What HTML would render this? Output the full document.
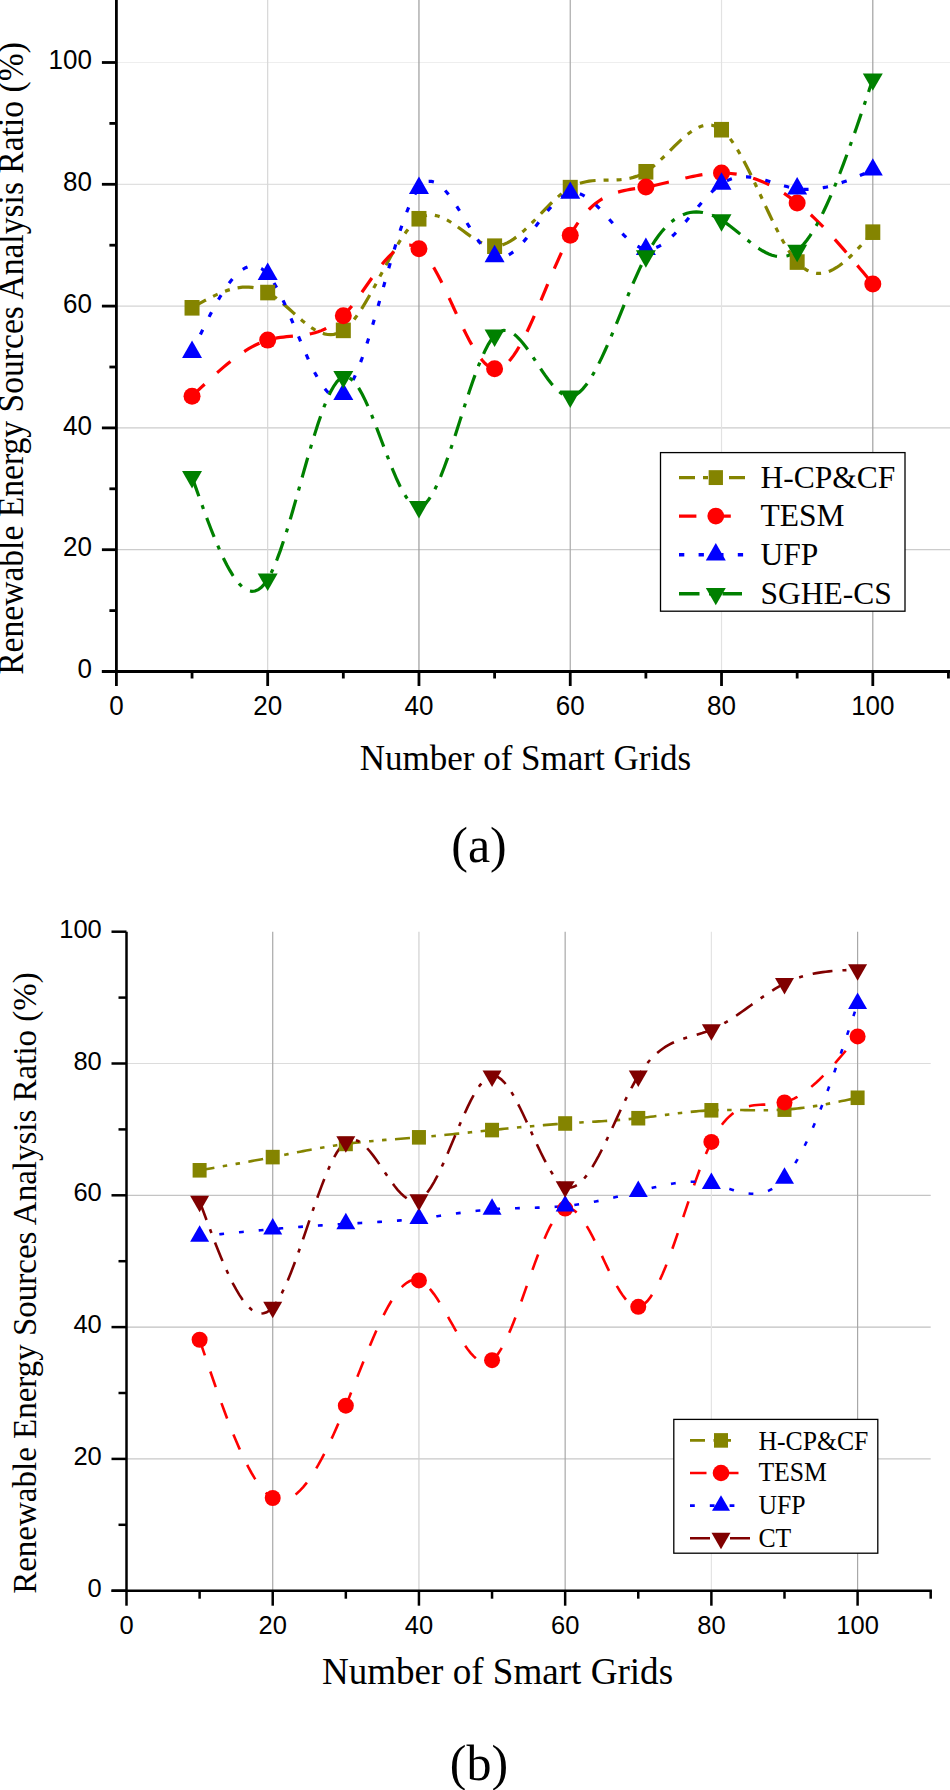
<!DOCTYPE html>
<html><head><meta charset="utf-8"><style>
html,body{margin:0;padding:0;background:#fff;}
body{width:950px;height:1790px;overflow:hidden;}
svg{display:block;}
</style></head><body>
<svg width="950" height="1790" viewBox="0 0 950 1790">
<line x1="116.40" y1="549.70" x2="950.00" y2="549.70" stroke="#cccccc" stroke-width="1.2"/>
<line x1="116.40" y1="427.90" x2="950.00" y2="427.90" stroke="#cccccc" stroke-width="1.2"/>
<line x1="116.40" y1="306.10" x2="950.00" y2="306.10" stroke="#d4d4d4" stroke-width="1.2"/>
<line x1="116.40" y1="184.30" x2="950.00" y2="184.30" stroke="#e0e0e0" stroke-width="1.2"/>
<line x1="116.40" y1="62.50" x2="950.00" y2="62.50" stroke="#eeeeee" stroke-width="1.2"/>
<line x1="267.68" y1="-2.00" x2="267.68" y2="671.50" stroke="#d6d6d6" stroke-width="1.2"/>
<line x1="418.96" y1="-2.00" x2="418.96" y2="671.50" stroke="#9c9c9c" stroke-width="1.2"/>
<line x1="570.24" y1="-2.00" x2="570.24" y2="671.50" stroke="#aaaaaa" stroke-width="1.2"/>
<line x1="721.52" y1="-2.00" x2="721.52" y2="671.50" stroke="#e2e2e2" stroke-width="1.2"/>
<line x1="872.80" y1="-2.00" x2="872.80" y2="671.50" stroke="#a0a0a0" stroke-width="1.2"/>
<path d="M192.04,307.80 L195.19,305.99 L198.34,304.20 L201.50,302.43 L204.65,300.70 L207.80,299.01 L210.95,297.39 L214.10,295.84 L217.25,294.38 L220.41,293.01 L223.56,291.75 L226.71,290.62 L229.86,289.62 L233.01,288.76 L236.16,288.07 L239.31,287.55 L242.47,287.21 L245.62,287.06 L248.77,287.13 L251.92,287.41 L255.07,287.92 L258.23,288.68 L261.38,289.70 L264.53,290.99 L267.68,292.55 L270.83,294.40 L273.98,296.51 L277.13,298.83 L280.29,301.34 L283.44,303.98 L286.59,306.73 L289.74,309.54 L292.89,312.38 L296.05,315.20 L299.20,317.98 L302.35,320.67 L305.50,323.23 L308.65,325.64 L311.80,327.84 L314.96,329.80 L318.11,331.48 L321.26,332.84 L324.41,333.86 L327.56,334.48 L330.71,334.67 L333.87,334.39 L337.02,333.60 L340.17,332.28 L343.32,330.37 L346.47,327.85 L349.62,324.77 L352.77,321.17 L355.93,317.10 L359.08,312.63 L362.23,307.79 L365.38,302.65 L368.53,297.25 L371.69,291.65 L374.84,285.90 L377.99,280.05 L381.14,274.15 L384.29,268.26 L387.44,262.43 L390.60,256.70 L393.75,251.14 L396.90,245.80 L400.05,240.72 L403.20,235.96 L406.35,231.56 L409.50,227.60 L412.66,224.10 L415.81,221.14 L418.96,218.75 L422.11,216.98 L425.26,215.80 L428.41,215.16 L431.57,215.01 L434.72,215.31 L437.87,216.02 L441.02,217.09 L444.17,218.47 L447.33,220.12 L450.48,221.99 L453.63,224.04 L456.78,226.22 L459.93,228.49 L463.08,230.80 L466.24,233.11 L469.39,235.37 L472.54,237.53 L475.69,239.55 L478.84,241.39 L481.99,242.99 L485.14,244.32 L488.30,245.33 L491.45,245.97 L494.60,246.20 L497.75,245.98 L500.90,245.34 L504.06,244.30 L507.21,242.90 L510.36,241.17 L513.51,239.14 L516.66,236.84 L519.81,234.31 L522.97,231.57 L526.12,228.66 L529.27,225.61 L532.42,222.46 L535.57,219.22 L538.72,215.94 L541.88,212.65 L545.03,209.37 L548.18,206.15 L551.33,203.00 L554.48,199.98 L557.63,197.09 L560.78,194.39 L563.94,191.89 L567.09,189.63 L570.24,187.65 L573.39,185.96 L576.54,184.55 L579.70,183.39 L582.85,182.46 L586.00,181.73 L589.15,181.18 L592.30,180.77 L595.45,180.49 L598.61,180.31 L601.76,180.20 L604.91,180.14 L608.06,180.09 L611.21,180.04 L614.36,179.96 L617.51,179.83 L620.67,179.61 L623.82,179.28 L626.97,178.82 L630.12,178.20 L633.27,177.39 L636.42,176.37 L639.58,175.12 L642.73,173.60 L645.88,171.79 L649.03,169.68 L652.18,167.30 L655.34,164.68 L658.49,161.87 L661.64,158.92 L664.79,155.86 L667.94,152.73 L671.09,149.58 L674.25,146.44 L677.40,143.37 L680.55,140.39 L683.70,137.56 L686.85,134.91 L690.00,132.48 L693.15,130.32 L696.31,128.47 L699.46,126.97 L702.61,125.85 L705.76,125.17 L708.91,124.97 L712.06,125.28 L715.22,126.14 L718.37,127.61 L721.52,129.71 L724.67,132.48 L727.82,135.87 L730.98,139.85 L734.13,144.34 L737.28,149.30 L740.43,154.68 L743.58,160.42 L746.73,166.47 L749.88,172.78 L753.04,179.28 L756.19,185.95 L759.34,192.70 L762.49,199.50 L765.64,206.30 L768.79,213.03 L771.95,219.64 L775.10,226.09 L778.25,232.32 L781.40,238.27 L784.55,243.89 L787.70,249.14 L790.86,253.95 L794.01,258.27 L797.16,262.06 L800.45,265.39 L803.74,268.10 L807.03,270.23 L810.31,271.79 L813.60,272.82 L816.89,273.34 L820.18,273.39 L823.47,272.99 L826.76,272.17 L830.05,270.95 L833.34,269.37 L836.62,267.46 L839.91,265.23 L843.20,262.72 L846.49,259.97 L849.78,256.98 L853.07,253.80 L856.36,250.45 L859.65,246.97 L862.93,243.37 L866.22,239.68 L869.51,235.94 L872.80,232.17" fill="none" stroke="#848400" stroke-width="3.2" stroke-dasharray="16 8 5 8 5 8"/>
<path d="M192.04,396.24 L195.19,393.21 L198.34,390.19 L201.50,387.18 L204.65,384.20 L207.80,381.24 L210.95,378.32 L214.10,375.44 L217.25,372.62 L220.41,369.85 L223.56,367.15 L226.71,364.51 L229.86,361.96 L233.01,359.50 L236.16,357.12 L239.31,354.85 L242.47,352.69 L245.62,350.64 L248.77,348.71 L251.92,346.91 L255.07,345.25 L258.23,343.74 L261.38,342.37 L264.53,341.17 L267.68,340.12 L270.83,339.25 L273.98,338.53 L277.13,337.93 L280.29,337.44 L283.44,337.04 L286.59,336.70 L289.74,336.39 L292.89,336.11 L296.05,335.81 L299.20,335.50 L302.35,335.13 L305.50,334.69 L308.65,334.15 L311.80,333.50 L314.96,332.72 L318.11,331.77 L321.26,330.63 L324.41,329.30 L327.56,327.73 L330.71,325.92 L333.87,323.84 L337.02,321.46 L340.17,318.76 L343.32,315.73 L346.47,312.35 L349.62,308.65 L352.77,304.70 L355.93,300.53 L359.08,296.20 L362.23,291.76 L365.38,287.25 L368.53,282.73 L371.69,278.24 L374.84,273.83 L377.99,269.56 L381.14,265.47 L384.29,261.62 L387.44,258.04 L390.60,254.80 L393.75,251.94 L396.90,249.50 L400.05,247.55 L403.20,246.12 L406.35,245.27 L409.50,245.05 L412.66,245.50 L415.81,246.68 L418.96,248.64 L422.11,251.40 L425.26,254.91 L428.41,259.09 L431.57,263.87 L434.72,269.17 L437.87,274.92 L441.02,281.05 L444.17,287.46 L447.33,294.10 L450.48,300.89 L453.63,307.74 L456.78,314.59 L459.93,321.35 L463.08,327.96 L466.24,334.34 L469.39,340.40 L472.54,346.09 L475.69,351.31 L478.84,356.00 L481.99,360.08 L485.14,363.48 L488.30,366.11 L491.45,367.91 L494.60,368.79 L497.75,368.71 L500.90,367.70 L504.06,365.83 L507.21,363.15 L510.36,359.73 L513.51,355.63 L516.66,350.91 L519.81,345.63 L522.97,339.86 L526.12,333.64 L529.27,327.06 L532.42,320.15 L535.57,313.00 L538.72,305.66 L541.88,298.19 L545.03,290.65 L548.18,283.10 L551.33,275.60 L554.48,268.23 L557.63,261.03 L560.78,254.06 L563.94,247.40 L567.09,241.10 L570.24,235.22 L573.39,229.81 L576.54,224.86 L579.70,220.35 L582.85,216.26 L586.00,212.56 L589.15,209.23 L592.30,206.25 L595.45,203.60 L598.61,201.25 L601.76,199.17 L604.91,197.36 L608.06,195.78 L611.21,194.42 L614.36,193.25 L617.51,192.24 L620.67,191.38 L623.82,190.65 L626.97,190.01 L630.12,189.45 L633.27,188.95 L636.42,188.48 L639.58,188.02 L642.73,187.55 L645.88,187.04 L649.03,186.48 L652.18,185.87 L655.34,185.21 L658.49,184.52 L661.64,183.80 L664.79,183.05 L667.94,182.29 L671.09,181.51 L674.25,180.73 L677.40,179.95 L680.55,179.18 L683.70,178.43 L686.85,177.70 L690.00,177.00 L693.15,176.33 L696.31,175.70 L699.46,175.13 L702.61,174.61 L705.76,174.15 L708.91,173.76 L712.06,173.44 L715.22,173.21 L718.37,173.06 L721.52,173.01 L724.67,173.06 L727.82,173.21 L730.98,173.47 L734.13,173.83 L737.28,174.29 L740.43,174.85 L743.58,175.52 L746.73,176.29 L749.88,177.16 L753.04,178.14 L756.19,179.22 L759.34,180.41 L762.49,181.70 L765.64,183.09 L768.79,184.59 L771.95,186.20 L775.10,187.92 L778.25,189.74 L781.40,191.66 L784.55,193.69 L787.70,195.83 L790.86,198.08 L794.01,200.43 L797.16,202.90 L800.45,205.58 L803.74,208.38 L807.03,211.28 L810.31,214.28 L813.60,217.39 L816.89,220.58 L820.18,223.86 L823.47,227.23 L826.76,230.67 L830.05,234.18 L833.34,237.76 L836.62,241.39 L839.91,245.09 L843.20,248.84 L846.49,252.63 L849.78,256.46 L853.07,260.33 L856.36,264.23 L859.65,268.16 L862.93,272.10 L866.22,276.07 L869.51,280.04 L872.80,284.01" fill="none" stroke="#ff0000" stroke-width="3.2" stroke-dasharray="17.4 17"/>
<path d="M192.04,352.17 L195.19,345.48 L198.34,338.82 L201.50,332.24 L204.65,325.76 L207.80,319.42 L210.95,313.27 L214.10,307.33 L217.25,301.64 L220.41,296.24 L223.56,291.16 L226.71,286.44 L229.86,282.12 L233.01,278.23 L236.16,274.80 L239.31,271.88 L242.47,269.49 L245.62,267.68 L248.77,266.48 L251.92,265.93 L255.07,266.05 L258.23,266.90 L261.38,268.50 L264.53,270.89 L267.68,274.11 L270.83,278.16 L273.98,282.98 L277.13,288.48 L280.29,294.56 L283.44,301.13 L286.59,308.09 L289.74,315.35 L292.89,322.82 L296.05,330.41 L299.20,338.01 L302.35,345.54 L305.50,352.90 L308.65,360.01 L311.80,366.76 L314.96,373.06 L318.11,378.83 L321.26,383.95 L324.41,388.36 L327.56,391.94 L330.71,394.60 L333.87,396.26 L337.02,396.82 L340.17,396.18 L343.32,394.26 L346.47,390.98 L349.62,386.44 L352.77,380.73 L355.93,373.97 L359.08,366.28 L362.23,357.75 L365.38,348.50 L368.53,338.65 L371.69,328.29 L374.84,317.55 L377.99,306.53 L381.14,295.34 L384.29,284.09 L387.44,272.89 L390.60,261.86 L393.75,251.10 L396.90,240.73 L400.05,230.84 L403.20,221.57 L406.35,213.01 L409.50,205.27 L412.66,198.47 L415.81,192.71 L418.96,188.11 L422.11,184.74 L425.26,182.56 L428.41,181.46 L431.57,181.37 L434.72,182.20 L437.87,183.85 L441.02,186.26 L444.17,189.31 L447.33,192.94 L450.48,197.05 L453.63,201.56 L456.78,206.37 L459.93,211.40 L463.08,216.57 L466.24,221.78 L469.39,226.95 L472.54,232.00 L475.69,236.83 L478.84,241.36 L481.99,245.50 L485.14,249.16 L488.30,252.26 L491.45,254.71 L494.60,256.42 L497.75,257.33 L500.90,257.48 L504.06,256.93 L507.21,255.73 L510.36,253.96 L513.51,251.68 L516.66,248.94 L519.81,245.81 L522.97,242.35 L526.12,238.63 L529.27,234.69 L532.42,230.62 L535.57,226.46 L538.72,222.28 L541.88,218.14 L545.03,214.11 L548.18,210.24 L551.33,206.60 L554.48,203.24 L557.63,200.24 L560.78,197.66 L563.94,195.54 L567.09,193.97 L570.24,192.99 L573.39,192.65 L576.54,192.93 L579.70,193.76 L582.85,195.09 L586.00,196.89 L589.15,199.08 L592.30,201.63 L595.45,204.48 L598.61,207.58 L601.76,210.88 L604.91,214.32 L608.06,217.86 L611.21,221.45 L614.36,225.02 L617.51,228.54 L620.67,231.95 L623.82,235.20 L626.97,238.23 L630.12,241.00 L633.27,243.46 L636.42,245.55 L639.58,247.22 L642.73,248.42 L645.88,249.10 L649.03,249.22 L652.18,248.81 L655.34,247.91 L658.49,246.55 L661.64,244.77 L664.79,242.62 L667.94,240.13 L671.09,237.34 L674.25,234.29 L677.40,231.02 L680.55,227.56 L683.70,223.97 L686.85,220.27 L690.00,216.50 L693.15,212.71 L696.31,208.93 L699.46,205.20 L702.61,201.57 L705.76,198.06 L708.91,194.72 L712.06,191.59 L715.22,188.71 L718.37,186.11 L721.52,183.84 L724.67,181.92 L727.82,180.35 L730.98,179.09 L734.13,178.14 L737.28,177.46 L740.43,177.04 L743.58,176.85 L746.73,176.88 L749.88,177.10 L753.04,177.48 L756.19,178.02 L759.34,178.68 L762.49,179.45 L765.64,180.31 L768.79,181.22 L771.95,182.18 L775.10,183.15 L778.25,184.13 L781.40,185.08 L784.55,185.98 L787.70,186.82 L790.86,187.57 L794.01,188.21 L797.16,188.72 L800.45,189.09 L803.74,189.31 L807.03,189.37 L810.31,189.28 L813.60,189.06 L816.89,188.71 L820.18,188.24 L823.47,187.65 L826.76,186.95 L830.05,186.15 L833.34,185.25 L836.62,184.27 L839.91,183.21 L843.20,182.08 L846.49,180.88 L849.78,179.62 L853.07,178.31 L856.36,176.96 L859.65,175.58 L862.93,174.16 L866.22,172.72 L869.51,171.27 L872.80,169.81" fill="none" stroke="#0000ff" stroke-width="3.2" stroke-dasharray="5.3 14.3"/>
<path d="M192.04,476.89 L195.19,485.86 L198.34,494.77 L201.50,503.59 L204.65,512.26 L207.80,520.73 L210.95,528.96 L214.10,536.90 L217.25,544.49 L220.41,551.69 L223.56,558.45 L226.71,564.72 L229.86,570.45 L233.01,575.59 L236.16,580.10 L239.31,583.92 L242.47,587.01 L245.62,589.31 L248.77,590.78 L251.92,591.36 L255.07,591.02 L258.23,589.69 L261.38,587.34 L264.53,583.91 L267.68,579.35 L270.83,573.65 L273.98,566.88 L277.13,559.16 L280.29,550.60 L283.44,541.32 L286.59,531.42 L289.74,521.03 L292.89,510.24 L296.05,499.18 L299.20,487.96 L302.35,476.69 L305.50,465.48 L308.65,454.45 L311.80,443.71 L314.96,433.36 L318.11,423.53 L321.26,414.32 L324.41,405.86 L327.56,398.24 L330.71,391.59 L333.87,386.01 L337.02,381.63 L340.17,378.54 L343.32,376.87 L346.47,376.68 L349.62,377.90 L352.77,380.39 L355.93,384.04 L359.08,388.71 L362.23,394.29 L365.38,400.64 L368.53,407.65 L371.69,415.19 L374.84,423.12 L377.99,431.34 L381.14,439.71 L384.29,448.12 L387.44,456.42 L390.60,464.51 L393.75,472.25 L396.90,479.52 L400.05,486.19 L403.20,492.15 L406.35,497.26 L409.50,501.41 L412.66,504.46 L415.81,506.29 L418.96,506.78 L422.11,505.84 L425.26,503.54 L428.41,500.00 L431.57,495.32 L434.72,489.62 L437.87,483.01 L441.02,475.61 L444.17,467.51 L447.33,458.84 L450.48,449.70 L453.63,440.21 L456.78,430.48 L459.93,420.62 L463.08,410.73 L466.24,400.95 L469.39,391.36 L472.54,382.09 L475.69,373.25 L478.84,364.94 L481.99,357.29 L485.14,350.39 L488.30,344.37 L491.45,339.34 L494.60,335.39 L497.75,332.63 L500.90,330.98 L504.06,330.36 L507.21,330.67 L510.36,331.84 L513.51,333.76 L516.66,336.36 L519.81,339.54 L522.97,343.21 L526.12,347.28 L529.27,351.66 L532.42,356.27 L535.57,361.01 L538.72,365.79 L541.88,370.53 L545.03,375.14 L548.18,379.52 L551.33,383.58 L554.48,387.25 L557.63,390.42 L560.78,393.01 L563.94,394.92 L567.09,396.08 L570.24,396.38 L573.39,395.78 L576.54,394.28 L579.70,391.97 L582.85,388.89 L586.00,385.10 L589.15,380.67 L592.30,375.64 L595.45,370.08 L598.61,364.04 L601.76,357.59 L604.91,350.78 L608.06,343.67 L611.21,336.32 L614.36,328.79 L617.51,321.13 L620.67,313.40 L623.82,305.66 L626.97,297.97 L630.12,290.38 L633.27,282.97 L636.42,275.77 L639.58,268.86 L642.73,262.28 L645.88,256.11 L649.03,250.38 L652.18,245.09 L655.34,240.24 L658.49,235.81 L661.64,231.79 L664.79,228.18 L667.94,224.96 L671.09,222.13 L674.25,219.66 L677.40,217.56 L680.55,215.80 L683.70,214.39 L686.85,213.31 L690.00,212.54 L693.15,212.08 L696.31,211.93 L699.46,212.05 L702.61,212.46 L705.76,213.13 L708.91,214.06 L712.06,215.24 L715.22,216.64 L718.37,218.28 L721.52,220.12 L724.67,222.17 L727.82,224.39 L730.98,226.74 L734.13,229.20 L737.28,231.74 L740.43,234.31 L743.58,236.90 L746.73,239.46 L749.88,241.96 L753.04,244.38 L756.19,246.67 L759.34,248.81 L762.49,250.76 L765.64,252.49 L768.79,253.97 L771.95,255.17 L775.10,256.05 L778.25,256.58 L781.40,256.73 L784.55,256.47 L787.70,255.76 L790.86,254.57 L794.01,252.86 L797.16,250.62 L800.45,247.67 L803.74,244.12 L807.03,240.00 L810.31,235.33 L813.60,230.15 L816.89,224.47 L820.18,218.33 L823.47,211.75 L826.76,204.76 L830.05,197.39 L833.34,189.67 L836.62,181.62 L839.91,173.27 L843.20,164.64 L846.49,155.77 L849.78,146.68 L853.07,137.40 L856.36,127.96 L859.65,118.38 L862.93,108.69 L866.22,98.92 L869.51,89.09 L872.80,79.24" fill="none" stroke="#008000" stroke-width="3.2" stroke-dasharray="20.5 9.5 4 9.5"/>
<rect x="184.54" y="300.00" width="15.00" height="15.60" fill="#848400"/>
<rect x="260.18" y="284.75" width="15.00" height="15.60" fill="#848400"/>
<rect x="335.82" y="322.57" width="15.00" height="15.60" fill="#848400"/>
<rect x="411.46" y="210.95" width="15.00" height="15.60" fill="#848400"/>
<rect x="487.10" y="238.40" width="15.00" height="15.60" fill="#848400"/>
<rect x="562.74" y="179.85" width="15.00" height="15.60" fill="#848400"/>
<rect x="638.38" y="163.99" width="15.00" height="15.60" fill="#848400"/>
<rect x="714.02" y="121.91" width="15.00" height="15.60" fill="#848400"/>
<rect x="789.66" y="254.26" width="15.00" height="15.60" fill="#848400"/>
<rect x="865.30" y="224.37" width="15.00" height="15.60" fill="#848400"/>
<circle cx="192.04" cy="396.24" r="8.50" fill="#ff0000"/>
<circle cx="267.68" cy="340.12" r="8.50" fill="#ff0000"/>
<circle cx="343.32" cy="315.73" r="8.50" fill="#ff0000"/>
<circle cx="418.96" cy="248.64" r="8.50" fill="#ff0000"/>
<circle cx="494.60" cy="368.79" r="8.50" fill="#ff0000"/>
<circle cx="570.24" cy="235.22" r="8.50" fill="#ff0000"/>
<circle cx="645.88" cy="187.04" r="8.50" fill="#ff0000"/>
<circle cx="721.52" cy="173.01" r="8.50" fill="#ff0000"/>
<circle cx="797.16" cy="202.90" r="8.50" fill="#ff0000"/>
<circle cx="872.80" cy="284.01" r="8.50" fill="#ff0000"/>
<path d="M192.04,340.57L202.04,357.97L182.04,357.97Z" fill="#0000ff"/>
<path d="M267.68,262.51L277.68,279.91L257.68,279.91Z" fill="#0000ff"/>
<path d="M343.32,382.66L353.32,400.06L333.32,400.06Z" fill="#0000ff"/>
<path d="M418.96,176.51L428.96,193.91L408.96,193.91Z" fill="#0000ff"/>
<path d="M494.60,244.82L504.60,262.22L484.60,262.22Z" fill="#0000ff"/>
<path d="M570.24,181.39L580.24,198.79L560.24,198.79Z" fill="#0000ff"/>
<path d="M645.88,237.50L655.88,254.90L635.88,254.90Z" fill="#0000ff"/>
<path d="M721.52,172.24L731.52,189.64L711.52,189.64Z" fill="#0000ff"/>
<path d="M797.16,177.12L807.16,194.52L787.16,194.52Z" fill="#0000ff"/>
<path d="M872.80,158.21L882.80,175.61L862.80,175.61Z" fill="#0000ff"/>
<path d="M182.04,471.09L202.04,471.09L192.04,488.49Z" fill="#008000"/>
<path d="M257.68,573.55L277.68,573.55L267.68,590.95Z" fill="#008000"/>
<path d="M333.32,371.07L353.32,371.07L343.32,388.47Z" fill="#008000"/>
<path d="M408.96,500.98L428.96,500.98L418.96,518.38Z" fill="#008000"/>
<path d="M484.60,329.59L504.60,329.59L494.60,346.99Z" fill="#008000"/>
<path d="M560.24,390.58L580.24,390.58L570.24,407.98Z" fill="#008000"/>
<path d="M635.88,250.31L655.88,250.31L645.88,267.71Z" fill="#008000"/>
<path d="M711.52,214.32L731.52,214.32L721.52,231.72Z" fill="#008000"/>
<path d="M787.16,244.82L807.16,244.82L797.16,262.22Z" fill="#008000"/>
<path d="M862.80,73.44L882.80,73.44L872.80,90.84Z" fill="#008000"/>
<line x1="116.40" y1="-2.00" x2="116.40" y2="671.50" stroke="#000" stroke-width="2.8"/>
<line x1="101.90" y1="671.50" x2="952.00" y2="671.50" stroke="#000" stroke-width="2.8"/>
<line x1="101.90" y1="671.50" x2="116.40" y2="671.50" stroke="#000" stroke-width="2.8"/>
<line x1="101.90" y1="549.70" x2="116.40" y2="549.70" stroke="#000" stroke-width="2.8"/>
<line x1="101.90" y1="427.90" x2="116.40" y2="427.90" stroke="#000" stroke-width="2.8"/>
<line x1="101.90" y1="306.10" x2="116.40" y2="306.10" stroke="#000" stroke-width="2.8"/>
<line x1="101.90" y1="184.30" x2="116.40" y2="184.30" stroke="#000" stroke-width="2.8"/>
<line x1="101.90" y1="62.50" x2="116.40" y2="62.50" stroke="#000" stroke-width="2.8"/>
<line x1="109.40" y1="610.60" x2="116.40" y2="610.60" stroke="#000" stroke-width="2.8"/>
<line x1="109.40" y1="488.80" x2="116.40" y2="488.80" stroke="#000" stroke-width="2.8"/>
<line x1="109.40" y1="367.00" x2="116.40" y2="367.00" stroke="#000" stroke-width="2.8"/>
<line x1="109.40" y1="245.20" x2="116.40" y2="245.20" stroke="#000" stroke-width="2.8"/>
<line x1="109.40" y1="123.40" x2="116.40" y2="123.40" stroke="#000" stroke-width="2.8"/>
<line x1="116.40" y1="671.50" x2="116.40" y2="686.00" stroke="#000" stroke-width="2.8"/>
<line x1="267.68" y1="671.50" x2="267.68" y2="686.00" stroke="#000" stroke-width="2.8"/>
<line x1="418.96" y1="671.50" x2="418.96" y2="686.00" stroke="#000" stroke-width="2.8"/>
<line x1="570.24" y1="671.50" x2="570.24" y2="686.00" stroke="#000" stroke-width="2.8"/>
<line x1="721.52" y1="671.50" x2="721.52" y2="686.00" stroke="#000" stroke-width="2.8"/>
<line x1="872.80" y1="671.50" x2="872.80" y2="686.00" stroke="#000" stroke-width="2.8"/>
<line x1="192.04" y1="671.50" x2="192.04" y2="678.50" stroke="#000" stroke-width="2.8"/>
<line x1="343.32" y1="671.50" x2="343.32" y2="678.50" stroke="#000" stroke-width="2.8"/>
<line x1="494.60" y1="671.50" x2="494.60" y2="678.50" stroke="#000" stroke-width="2.8"/>
<line x1="645.88" y1="671.50" x2="645.88" y2="678.50" stroke="#000" stroke-width="2.8"/>
<line x1="797.16" y1="671.50" x2="797.16" y2="678.50" stroke="#000" stroke-width="2.8"/>
<line x1="948.44" y1="671.50" x2="948.44" y2="678.50" stroke="#000" stroke-width="2.8"/>
<text transform="translate(91.90,678.10) scale(1,1.06)" font-family='"Liberation Sans", sans-serif' font-size="26" text-anchor="end">0</text>
<text transform="translate(91.90,556.30) scale(1,1.06)" font-family='"Liberation Sans", sans-serif' font-size="26" text-anchor="end">20</text>
<text transform="translate(91.90,434.50) scale(1,1.06)" font-family='"Liberation Sans", sans-serif' font-size="26" text-anchor="end">40</text>
<text transform="translate(91.90,312.70) scale(1,1.06)" font-family='"Liberation Sans", sans-serif' font-size="26" text-anchor="end">60</text>
<text transform="translate(91.90,190.90) scale(1,1.06)" font-family='"Liberation Sans", sans-serif' font-size="26" text-anchor="end">80</text>
<text transform="translate(91.90,69.10) scale(1,1.06)" font-family='"Liberation Sans", sans-serif' font-size="26" text-anchor="end">100</text>
<text transform="translate(116.40,715.00) scale(1,1.03)" font-family='"Liberation Sans", sans-serif' font-size="26" text-anchor="middle">0</text>
<text transform="translate(267.68,715.00) scale(1,1.03)" font-family='"Liberation Sans", sans-serif' font-size="26" text-anchor="middle">20</text>
<text transform="translate(418.96,715.00) scale(1,1.03)" font-family='"Liberation Sans", sans-serif' font-size="26" text-anchor="middle">40</text>
<text transform="translate(570.24,715.00) scale(1,1.03)" font-family='"Liberation Sans", sans-serif' font-size="26" text-anchor="middle">60</text>
<text transform="translate(721.52,715.00) scale(1,1.03)" font-family='"Liberation Sans", sans-serif' font-size="26" text-anchor="middle">80</text>
<text transform="translate(872.80,715.00) scale(1,1.03)" font-family='"Liberation Sans", sans-serif' font-size="26" text-anchor="middle">100</text>
<text transform="translate(525.50,769.50) scale(1,1.0)" font-family='"Liberation Serif", serif' font-size="35" text-anchor="middle">Number of Smart Grids</text>
<text transform="translate(479.00,861.50) scale(1,1.02)" font-family='"Liberation Serif", serif' font-size="50" text-anchor="middle">(a)</text>
<text transform="translate(23.30,358.50) rotate(-90) scale(1,1.05)" font-family='"Liberation Serif", serif' font-size="33.6" text-anchor="middle">Renewable Energy Sources Analysis Ratio (%)</text>
<rect x="660.50" y="452.60" width="244.50" height="158.60" fill="#fff" stroke="#000" stroke-width="1.3"/>
<line x1="679.00" y1="477.60" x2="746.00" y2="477.60" stroke="#848400" stroke-width="3.4" stroke-dasharray="16 8 5 8 5 8"/>
<rect x="708.65" y="470.16" width="14.30" height="14.87" fill="#848400"/>
<text transform="translate(760.50,487.80) scale(1,1.02)" font-family='"Liberation Serif", serif' font-size="31.5" text-anchor="start">H-CP&amp;CF</text>
<line x1="679.00" y1="516.10" x2="746.00" y2="516.10" stroke="#ff0000" stroke-width="3.4" stroke-dasharray="17.4 17"/>
<circle cx="715.80" cy="516.10" r="8.40" fill="#ff0000"/>
<text transform="translate(760.50,525.70) scale(1,1.02)" font-family='"Liberation Serif", serif' font-size="31.5" text-anchor="start">TESM</text>
<line x1="679.00" y1="554.70" x2="746.00" y2="554.70" stroke="#0000ff" stroke-width="3.4" stroke-dasharray="5.3 14.3"/>
<path d="M715.80,543.10L725.80,560.50L705.80,560.50Z" fill="#0000ff"/>
<text transform="translate(760.50,564.80) scale(1,1.02)" font-family='"Liberation Serif", serif' font-size="31.5" text-anchor="start">UFP</text>
<line x1="679.00" y1="593.70" x2="742.00" y2="593.70" stroke="#008000" stroke-width="3.4" stroke-dasharray="20.5 9.5 4 9.5"/>
<path d="M705.80,587.90L725.80,587.90L715.80,605.30Z" fill="#008000"/>
<text transform="translate(760.50,604.00) scale(1,1.02)" font-family='"Liberation Serif", serif' font-size="31.5" text-anchor="start">SGHE-CS</text>
<line x1="126.50" y1="1458.90" x2="930.71" y2="1458.90" stroke="#c8c8c8" stroke-width="1.2"/>
<line x1="126.50" y1="1327.10" x2="930.71" y2="1327.10" stroke="#c0c0c0" stroke-width="1.2"/>
<line x1="126.50" y1="1195.30" x2="930.71" y2="1195.30" stroke="#c4c4c4" stroke-width="1.2"/>
<line x1="126.50" y1="1063.50" x2="930.71" y2="1063.50" stroke="#dcdcdc" stroke-width="1.2"/>
<line x1="272.72" y1="931.70" x2="272.72" y2="1590.70" stroke="#a8a8a8" stroke-width="1.2"/>
<line x1="418.94" y1="931.70" x2="418.94" y2="1590.70" stroke="#d0d0d0" stroke-width="1.2"/>
<line x1="565.16" y1="931.70" x2="565.16" y2="1590.70" stroke="#a8a8a8" stroke-width="1.2"/>
<line x1="711.38" y1="931.70" x2="711.38" y2="1590.70" stroke="#e4e4e4" stroke-width="1.2"/>
<line x1="857.60" y1="931.70" x2="857.60" y2="1590.70" stroke="#a8a8a8" stroke-width="1.2"/>
<path d="M199.61,1170.30 L202.66,1169.77 L205.70,1169.24 L208.75,1168.71 L211.80,1168.18 L214.84,1167.65 L217.89,1167.12 L220.93,1166.59 L223.98,1166.05 L227.03,1165.51 L230.07,1164.98 L233.12,1164.43 L236.16,1163.89 L239.21,1163.35 L242.26,1162.80 L245.30,1162.25 L248.35,1161.69 L251.40,1161.13 L254.44,1160.57 L257.49,1160.01 L260.54,1159.44 L263.58,1158.86 L266.63,1158.28 L269.67,1157.70 L272.72,1157.11 L275.77,1156.52 L278.81,1155.93 L281.86,1155.33 L284.90,1154.73 L287.95,1154.12 L291.00,1153.52 L294.04,1152.92 L297.09,1152.32 L300.14,1151.73 L303.18,1151.14 L306.23,1150.55 L309.27,1149.97 L312.32,1149.40 L315.37,1148.84 L318.41,1148.29 L321.46,1147.75 L324.51,1147.22 L327.55,1146.70 L330.60,1146.20 L333.64,1145.71 L336.69,1145.24 L339.74,1144.78 L342.78,1144.34 L345.83,1143.93 L348.88,1143.53 L351.92,1143.15 L354.97,1142.79 L358.01,1142.45 L361.06,1142.12 L364.11,1141.80 L367.15,1141.50 L370.20,1141.21 L373.25,1140.94 L376.29,1140.67 L379.34,1140.41 L382.38,1140.16 L385.43,1139.92 L388.48,1139.68 L391.52,1139.44 L394.57,1139.21 L397.62,1138.98 L400.66,1138.75 L403.71,1138.52 L406.75,1138.29 L409.80,1138.06 L412.85,1137.82 L415.89,1137.58 L418.94,1137.33 L421.99,1137.08 L425.03,1136.82 L428.08,1136.55 L431.12,1136.27 L434.17,1135.99 L437.22,1135.71 L440.26,1135.42 L443.31,1135.12 L446.36,1134.82 L449.40,1134.52 L452.45,1134.21 L455.50,1133.90 L458.54,1133.59 L461.59,1133.28 L464.63,1132.96 L467.68,1132.64 L470.73,1132.32 L473.77,1132.00 L476.82,1131.68 L479.87,1131.36 L482.91,1131.04 L485.96,1130.72 L489.00,1130.40 L492.05,1130.08 L495.10,1129.76 L498.14,1129.45 L501.19,1129.14 L504.23,1128.83 L507.28,1128.52 L510.33,1128.21 L513.37,1127.91 L516.42,1127.62 L519.47,1127.32 L522.51,1127.03 L525.56,1126.74 L528.61,1126.46 L531.65,1126.18 L534.70,1125.91 L537.74,1125.64 L540.79,1125.38 L543.84,1125.12 L546.88,1124.87 L549.93,1124.62 L552.98,1124.38 L556.02,1124.15 L559.07,1123.92 L562.11,1123.70 L565.16,1123.49 L568.21,1123.28 L571.25,1123.08 L574.30,1122.88 L577.35,1122.69 L580.39,1122.50 L583.44,1122.32 L586.48,1122.13 L589.53,1121.95 L592.58,1121.76 L595.62,1121.58 L598.67,1121.39 L601.71,1121.19 L604.76,1120.99 L607.81,1120.79 L610.85,1120.58 L613.90,1120.36 L616.95,1120.13 L619.99,1119.90 L623.04,1119.65 L626.09,1119.39 L629.13,1119.11 L632.18,1118.83 L635.22,1118.53 L638.27,1118.21 L641.32,1117.88 L644.36,1117.53 L647.41,1117.17 L650.46,1116.80 L653.50,1116.42 L656.55,1116.03 L659.59,1115.64 L662.64,1115.25 L665.69,1114.85 L668.73,1114.46 L671.78,1114.07 L674.83,1113.69 L677.87,1113.32 L680.92,1112.95 L683.96,1112.60 L687.01,1112.26 L690.06,1111.94 L693.10,1111.63 L696.15,1111.35 L699.19,1111.08 L702.24,1110.85 L705.29,1110.63 L708.33,1110.45 L711.38,1110.30 L714.43,1110.18 L717.47,1110.08 L720.52,1110.02 L723.57,1109.98 L726.61,1109.95 L729.66,1109.95 L732.70,1109.96 L735.75,1109.99 L738.80,1110.02 L741.84,1110.06 L744.89,1110.10 L747.93,1110.14 L750.98,1110.18 L754.03,1110.22 L757.07,1110.25 L760.12,1110.26 L763.17,1110.26 L766.21,1110.25 L769.26,1110.21 L772.30,1110.16 L775.35,1110.07 L778.40,1109.96 L781.44,1109.82 L784.49,1109.64 L787.67,1109.41 L790.85,1109.15 L794.03,1108.85 L797.20,1108.51 L800.38,1108.14 L803.56,1107.74 L806.74,1107.31 L809.92,1106.85 L813.10,1106.37 L816.28,1105.85 L819.46,1105.32 L822.63,1104.77 L825.81,1104.19 L828.99,1103.60 L832.17,1102.99 L835.35,1102.37 L838.53,1101.74 L841.71,1101.09 L844.89,1100.44 L848.06,1099.78 L851.24,1099.11 L854.42,1098.44 L857.60,1097.77" fill="none" stroke="#848400" stroke-width="2.6" stroke-dasharray="15 8.5 4.5 8.5 4.5 8.5"/>
<path d="M199.61,1339.77 L202.66,1348.82 L205.70,1357.85 L208.75,1366.83 L211.80,1375.73 L214.84,1384.53 L217.89,1393.20 L220.93,1401.72 L223.98,1410.06 L227.03,1418.19 L230.07,1426.09 L233.12,1433.73 L236.16,1441.09 L239.21,1448.14 L242.26,1454.86 L245.30,1461.22 L248.35,1467.19 L251.40,1472.75 L254.44,1477.88 L257.49,1482.54 L260.54,1486.72 L263.58,1490.38 L266.63,1493.50 L269.67,1496.06 L272.72,1498.02 L275.77,1499.38 L278.81,1500.14 L281.86,1500.33 L284.90,1499.95 L287.95,1499.04 L291.00,1497.61 L294.04,1495.68 L297.09,1493.28 L300.14,1490.41 L303.18,1487.10 L306.23,1483.38 L309.27,1479.25 L312.32,1474.75 L315.37,1469.88 L318.41,1464.67 L321.46,1459.15 L324.51,1453.32 L327.55,1447.20 L330.60,1440.83 L333.64,1434.21 L336.69,1427.37 L339.74,1420.33 L342.78,1413.10 L345.83,1405.71 L348.88,1398.18 L351.92,1390.54 L354.97,1382.85 L358.01,1375.13 L361.06,1367.43 L364.11,1359.80 L367.15,1352.27 L370.20,1344.89 L373.25,1337.70 L376.29,1330.73 L379.34,1324.04 L382.38,1317.65 L385.43,1311.62 L388.48,1305.98 L391.52,1300.78 L394.57,1296.06 L397.62,1291.85 L400.66,1288.21 L403.71,1285.17 L406.75,1282.76 L409.80,1281.05 L412.85,1280.06 L415.89,1279.84 L418.94,1280.42 L421.99,1281.84 L425.03,1284.02 L428.08,1286.89 L431.12,1290.37 L434.17,1294.36 L437.22,1298.80 L440.26,1303.59 L443.31,1308.66 L446.36,1313.92 L449.40,1319.29 L452.45,1324.70 L455.50,1330.04 L458.54,1335.26 L461.59,1340.26 L464.63,1344.95 L467.68,1349.27 L470.73,1353.12 L473.77,1356.43 L476.82,1359.11 L479.87,1361.08 L482.91,1362.25 L485.96,1362.56 L489.00,1361.90 L492.05,1360.21 L495.10,1357.43 L498.14,1353.62 L501.19,1348.89 L504.23,1343.33 L507.28,1337.04 L510.33,1330.12 L513.37,1322.67 L516.42,1314.77 L519.47,1306.54 L522.51,1298.06 L525.56,1289.44 L528.61,1280.77 L531.65,1272.15 L534.70,1263.68 L537.74,1255.45 L540.79,1247.57 L543.84,1240.13 L546.88,1233.22 L549.93,1226.95 L552.98,1221.41 L556.02,1216.71 L559.07,1212.93 L562.11,1210.18 L565.16,1208.55 L568.21,1208.11 L571.25,1208.79 L574.30,1210.49 L577.35,1213.12 L580.39,1216.56 L583.44,1220.74 L586.48,1225.54 L589.53,1230.87 L592.58,1236.62 L595.62,1242.70 L598.67,1249.02 L601.71,1255.46 L604.76,1261.93 L607.81,1268.33 L610.85,1274.57 L613.90,1280.54 L616.95,1286.15 L619.99,1291.28 L623.04,1295.86 L626.09,1299.77 L629.13,1302.92 L632.18,1305.21 L635.22,1306.53 L638.27,1306.80 L641.32,1305.93 L644.36,1303.99 L647.41,1301.04 L650.46,1297.15 L653.50,1292.42 L656.55,1286.90 L659.59,1280.69 L662.64,1273.85 L665.69,1266.47 L668.73,1258.61 L671.78,1250.36 L674.83,1241.79 L677.87,1232.98 L680.92,1224.00 L683.96,1214.93 L687.01,1205.86 L690.06,1196.84 L693.10,1187.97 L696.15,1179.31 L699.19,1170.94 L702.24,1162.95 L705.29,1155.40 L708.33,1148.38 L711.38,1141.95 L714.43,1136.18 L717.47,1131.04 L720.52,1126.51 L723.57,1122.54 L726.61,1119.09 L729.66,1116.13 L732.70,1113.61 L735.75,1111.50 L738.80,1109.77 L741.84,1108.36 L744.89,1107.25 L747.93,1106.40 L750.98,1105.77 L754.03,1105.32 L757.07,1105.01 L760.12,1104.81 L763.17,1104.67 L766.21,1104.56 L769.26,1104.44 L772.30,1104.28 L775.35,1104.03 L778.40,1103.65 L781.44,1103.12 L784.49,1102.38 L787.67,1101.37 L790.85,1100.11 L794.03,1098.62 L797.20,1096.90 L800.38,1094.97 L803.56,1092.83 L806.74,1090.50 L809.92,1088.00 L813.10,1085.32 L816.28,1082.49 L819.46,1079.51 L822.63,1076.39 L825.81,1073.16 L828.99,1069.80 L832.17,1066.35 L835.35,1062.81 L838.53,1059.19 L841.71,1055.50 L844.89,1051.76 L848.06,1047.97 L851.24,1044.15 L854.42,1040.30 L857.60,1036.44" fill="none" stroke="#ff0000" stroke-width="2.6" stroke-dasharray="16.5 17"/>
<path d="M199.61,1236.36 L202.66,1236.04 L205.70,1235.72 L208.75,1235.40 L211.80,1235.08 L214.84,1234.77 L217.89,1234.45 L220.93,1234.14 L223.98,1233.82 L227.03,1233.51 L230.07,1233.20 L233.12,1232.89 L236.16,1232.58 L239.21,1232.27 L242.26,1231.97 L245.30,1231.67 L248.35,1231.37 L251.40,1231.08 L254.44,1230.79 L257.49,1230.50 L260.54,1230.21 L263.58,1229.93 L266.63,1229.65 L269.67,1229.38 L272.72,1229.11 L275.77,1228.84 L278.81,1228.58 L281.86,1228.32 L284.90,1228.07 L287.95,1227.82 L291.00,1227.57 L294.04,1227.33 L297.09,1227.10 L300.14,1226.86 L303.18,1226.63 L306.23,1226.41 L309.27,1226.19 L312.32,1225.97 L315.37,1225.76 L318.41,1225.55 L321.46,1225.34 L324.51,1225.14 L327.55,1224.94 L330.60,1224.75 L333.64,1224.56 L336.69,1224.37 L339.74,1224.19 L342.78,1224.01 L345.83,1223.83 L348.88,1223.66 L351.92,1223.49 L354.97,1223.32 L358.01,1223.15 L361.06,1222.98 L364.11,1222.82 L367.15,1222.64 L370.20,1222.47 L373.25,1222.29 L376.29,1222.11 L379.34,1221.92 L382.38,1221.73 L385.43,1221.53 L388.48,1221.32 L391.52,1221.10 L394.57,1220.87 L397.62,1220.63 L400.66,1220.37 L403.71,1220.11 L406.75,1219.83 L409.80,1219.54 L412.85,1219.23 L415.89,1218.90 L418.94,1218.56 L421.99,1218.19 L425.03,1217.82 L428.08,1217.42 L431.12,1217.02 L434.17,1216.60 L437.22,1216.18 L440.26,1215.75 L443.31,1215.31 L446.36,1214.88 L449.40,1214.44 L452.45,1214.00 L455.50,1213.57 L458.54,1213.14 L461.59,1212.72 L464.63,1212.30 L467.68,1211.90 L470.73,1211.51 L473.77,1211.14 L476.82,1210.78 L479.87,1210.45 L482.91,1210.13 L485.96,1209.84 L489.00,1209.57 L492.05,1209.32 L495.10,1209.11 L498.14,1208.92 L501.19,1208.76 L504.23,1208.62 L507.28,1208.49 L510.33,1208.38 L513.37,1208.28 L516.42,1208.20 L519.47,1208.12 L522.51,1208.04 L525.56,1207.97 L528.61,1207.90 L531.65,1207.82 L534.70,1207.74 L537.74,1207.65 L540.79,1207.55 L543.84,1207.44 L546.88,1207.31 L549.93,1207.16 L552.98,1206.98 L556.02,1206.79 L559.07,1206.57 L562.11,1206.31 L565.16,1206.03 L568.21,1205.71 L571.25,1205.36 L574.30,1204.97 L577.35,1204.55 L580.39,1204.11 L583.44,1203.63 L586.48,1203.13 L589.53,1202.60 L592.58,1202.04 L595.62,1201.46 L598.67,1200.86 L601.71,1200.24 L604.76,1199.60 L607.81,1198.93 L610.85,1198.25 L613.90,1197.55 L616.95,1196.84 L619.99,1196.11 L623.04,1195.37 L626.09,1194.62 L629.13,1193.86 L632.18,1193.09 L635.22,1192.31 L638.27,1191.52 L641.32,1190.73 L644.36,1189.94 L647.41,1189.15 L650.46,1188.37 L653.50,1187.61 L656.55,1186.88 L659.59,1186.17 L662.64,1185.49 L665.69,1184.85 L668.73,1184.25 L671.78,1183.71 L674.83,1183.22 L677.87,1182.78 L680.92,1182.42 L683.96,1182.13 L687.01,1181.91 L690.06,1181.78 L693.10,1181.73 L696.15,1181.78 L699.19,1181.92 L702.24,1182.17 L705.29,1182.53 L708.33,1183.01 L711.38,1183.61 L714.43,1184.33 L717.47,1185.15 L720.52,1186.04 L723.57,1186.99 L726.61,1187.97 L729.66,1188.94 L732.70,1189.90 L735.75,1190.80 L738.80,1191.64 L741.84,1192.37 L744.89,1192.98 L747.93,1193.44 L750.98,1193.73 L754.03,1193.82 L757.07,1193.69 L760.12,1193.31 L763.17,1192.65 L766.21,1191.70 L769.26,1190.43 L772.30,1188.80 L775.35,1186.81 L778.40,1184.41 L781.44,1181.60 L784.49,1178.33 L787.67,1174.43 L790.85,1170.03 L794.03,1165.17 L797.20,1159.85 L800.38,1154.12 L803.56,1147.97 L806.74,1141.45 L809.92,1134.57 L813.10,1127.35 L816.28,1119.82 L819.46,1112.00 L822.63,1103.91 L825.81,1095.58 L828.99,1087.02 L832.17,1078.25 L835.35,1069.31 L838.53,1060.21 L841.71,1050.98 L844.89,1041.64 L848.06,1032.21 L851.24,1022.71 L854.42,1013.16 L857.60,1003.59" fill="none" stroke="#0000ff" stroke-width="2.6" stroke-dasharray="4.8 15"/>
<path d="M199.61,1201.18 L202.66,1209.51 L205.70,1217.79 L208.75,1226.00 L211.80,1234.08 L214.84,1242.01 L217.89,1249.72 L220.93,1257.20 L223.98,1264.38 L227.03,1271.24 L230.07,1277.74 L233.12,1283.83 L236.16,1289.47 L239.21,1294.62 L242.26,1299.24 L245.30,1303.29 L248.35,1306.73 L251.40,1309.51 L254.44,1311.61 L257.49,1312.97 L260.54,1313.55 L263.58,1313.32 L266.63,1312.24 L269.67,1310.26 L272.72,1307.34 L275.77,1303.47 L278.81,1298.70 L281.86,1293.12 L284.90,1286.83 L287.95,1279.90 L291.00,1272.42 L294.04,1264.48 L297.09,1256.17 L300.14,1247.56 L303.18,1238.74 L306.23,1229.81 L309.27,1220.84 L312.32,1211.93 L315.37,1203.15 L318.41,1194.59 L321.46,1186.35 L324.51,1178.50 L327.55,1171.13 L330.60,1164.33 L333.64,1158.18 L336.69,1152.77 L339.74,1148.19 L342.78,1144.51 L345.83,1141.83 L348.88,1140.21 L351.92,1139.57 L354.97,1139.85 L358.01,1140.94 L361.06,1142.77 L364.11,1145.24 L367.15,1148.26 L370.20,1151.76 L373.25,1155.63 L376.29,1159.80 L379.34,1164.17 L382.38,1168.67 L385.43,1173.19 L388.48,1177.65 L391.52,1181.97 L394.57,1186.06 L397.62,1189.82 L400.66,1193.18 L403.71,1196.05 L406.75,1198.32 L409.80,1199.93 L412.85,1200.78 L415.89,1200.79 L418.94,1199.86 L421.99,1197.94 L425.03,1195.08 L428.08,1191.38 L431.12,1186.93 L434.17,1181.81 L437.22,1176.11 L440.26,1169.93 L443.31,1163.34 L446.36,1156.44 L449.40,1149.32 L452.45,1142.06 L455.50,1134.76 L458.54,1127.50 L461.59,1120.37 L464.63,1113.47 L467.68,1106.87 L470.73,1100.68 L473.77,1094.96 L476.82,1089.83 L479.87,1085.36 L482.91,1081.64 L485.96,1078.76 L489.00,1076.82 L492.05,1075.89 L495.10,1076.04 L498.14,1077.22 L501.19,1079.33 L504.23,1082.28 L507.28,1086.00 L510.33,1090.40 L513.37,1095.39 L516.42,1100.88 L519.47,1106.78 L522.51,1113.02 L525.56,1119.50 L528.61,1126.14 L531.65,1132.85 L534.70,1139.55 L537.74,1146.14 L540.79,1152.55 L543.84,1158.68 L546.88,1164.45 L549.93,1169.77 L552.98,1174.57 L556.02,1178.74 L559.07,1182.20 L562.11,1184.88 L565.16,1186.67 L568.21,1187.52 L571.25,1187.47 L574.30,1186.57 L577.35,1184.88 L580.39,1182.46 L583.44,1179.37 L586.48,1175.67 L589.53,1171.41 L592.58,1166.66 L595.62,1161.47 L598.67,1155.90 L601.71,1150.01 L604.76,1143.87 L607.81,1137.52 L610.85,1131.03 L613.90,1124.45 L616.95,1117.86 L619.99,1111.29 L623.04,1104.82 L626.09,1098.49 L629.13,1092.38 L632.18,1086.54 L635.22,1081.02 L638.27,1075.89 L641.32,1071.19 L644.36,1066.91 L647.41,1063.03 L650.46,1059.52 L653.50,1056.35 L656.55,1053.51 L659.59,1050.97 L662.64,1048.70 L665.69,1046.68 L668.73,1044.89 L671.78,1043.29 L674.83,1041.88 L677.87,1040.61 L680.92,1039.47 L683.96,1038.44 L687.01,1037.48 L690.06,1036.58 L693.10,1035.71 L696.15,1034.84 L699.19,1033.95 L702.24,1033.03 L705.29,1032.03 L708.33,1030.94 L711.38,1029.73 L714.43,1028.39 L717.47,1026.92 L720.52,1025.33 L723.57,1023.63 L726.61,1021.83 L729.66,1019.95 L732.70,1017.99 L735.75,1015.97 L738.80,1013.89 L741.84,1011.77 L744.89,1009.61 L747.93,1007.43 L750.98,1005.25 L754.03,1003.06 L757.07,1000.88 L760.12,998.73 L763.17,996.61 L766.21,994.53 L769.26,992.50 L772.30,990.54 L775.35,988.66 L778.40,986.86 L781.44,985.17 L784.49,983.58 L787.67,982.04 L790.85,980.63 L794.03,979.34 L797.20,978.16 L800.38,977.09 L803.56,976.12 L806.74,975.25 L809.92,974.46 L813.10,973.76 L816.28,973.15 L819.46,972.60 L822.63,972.12 L825.81,971.71 L828.99,971.35 L832.17,971.04 L835.35,970.78 L838.53,970.55 L841.71,970.36 L844.89,970.20 L848.06,970.06 L851.24,969.94 L854.42,969.83 L857.60,969.73" fill="none" stroke="#800000" stroke-width="2.6" stroke-dasharray="20 10 4 10"/>
<rect x="192.61" y="1163.02" width="14.00" height="14.56" fill="#848400"/>
<rect x="265.72" y="1149.83" width="14.00" height="14.56" fill="#848400"/>
<rect x="338.83" y="1136.65" width="14.00" height="14.56" fill="#848400"/>
<rect x="411.94" y="1130.05" width="14.00" height="14.56" fill="#848400"/>
<rect x="485.05" y="1122.80" width="14.00" height="14.56" fill="#848400"/>
<rect x="558.16" y="1116.21" width="14.00" height="14.56" fill="#848400"/>
<rect x="631.27" y="1110.93" width="14.00" height="14.56" fill="#848400"/>
<rect x="704.38" y="1103.02" width="14.00" height="14.56" fill="#848400"/>
<rect x="777.49" y="1102.36" width="14.00" height="14.56" fill="#848400"/>
<rect x="850.60" y="1090.49" width="14.00" height="14.56" fill="#848400"/>
<circle cx="199.61" cy="1339.77" r="8.00" fill="#ff0000"/>
<circle cx="272.72" cy="1498.02" r="8.00" fill="#ff0000"/>
<circle cx="345.83" cy="1405.71" r="8.00" fill="#ff0000"/>
<circle cx="418.94" cy="1280.42" r="8.00" fill="#ff0000"/>
<circle cx="492.05" cy="1360.21" r="8.00" fill="#ff0000"/>
<circle cx="565.16" cy="1208.55" r="8.00" fill="#ff0000"/>
<circle cx="638.27" cy="1306.80" r="8.00" fill="#ff0000"/>
<circle cx="711.38" cy="1141.95" r="8.00" fill="#ff0000"/>
<circle cx="784.49" cy="1102.38" r="8.00" fill="#ff0000"/>
<circle cx="857.60" cy="1036.44" r="8.00" fill="#ff0000"/>
<path d="M199.61,1225.34L209.11,1241.87L190.11,1241.87Z" fill="#0000ff"/>
<path d="M272.72,1218.09L282.22,1234.62L263.22,1234.62Z" fill="#0000ff"/>
<path d="M345.83,1212.81L355.33,1229.34L336.33,1229.34Z" fill="#0000ff"/>
<path d="M418.94,1207.54L428.44,1224.07L409.44,1224.07Z" fill="#0000ff"/>
<path d="M492.05,1198.30L501.55,1214.83L482.55,1214.83Z" fill="#0000ff"/>
<path d="M565.16,1195.01L574.66,1211.54L555.66,1211.54Z" fill="#0000ff"/>
<path d="M638.27,1180.50L647.77,1197.03L628.77,1197.03Z" fill="#0000ff"/>
<path d="M711.38,1172.59L720.88,1189.12L701.88,1189.12Z" fill="#0000ff"/>
<path d="M784.49,1167.31L793.99,1183.84L774.99,1183.84Z" fill="#0000ff"/>
<path d="M857.60,992.57L867.10,1009.10L848.10,1009.10Z" fill="#0000ff"/>
<path d="M190.11,1195.67L209.11,1195.67L199.61,1212.20Z" fill="#800000"/>
<path d="M263.22,1301.83L282.22,1301.83L272.72,1318.36Z" fill="#800000"/>
<path d="M336.33,1136.32L355.33,1136.32L345.83,1152.85Z" fill="#800000"/>
<path d="M409.44,1194.35L428.44,1194.35L418.94,1210.88Z" fill="#800000"/>
<path d="M482.55,1070.38L501.55,1070.38L492.05,1086.91Z" fill="#800000"/>
<path d="M555.66,1181.16L574.66,1181.16L565.16,1197.69Z" fill="#800000"/>
<path d="M628.77,1070.38L647.77,1070.38L638.27,1086.91Z" fill="#800000"/>
<path d="M701.88,1024.22L720.88,1024.22L711.38,1040.75Z" fill="#800000"/>
<path d="M774.99,978.07L793.99,978.07L784.49,994.60Z" fill="#800000"/>
<path d="M848.10,964.22L867.10,964.22L857.60,980.75Z" fill="#800000"/>
<line x1="126.50" y1="931.70" x2="126.50" y2="1590.70" stroke="#000" stroke-width="2.5"/>
<line x1="111.50" y1="1590.70" x2="931.91" y2="1590.70" stroke="#000" stroke-width="2.5"/>
<line x1="111.50" y1="1590.70" x2="126.50" y2="1590.70" stroke="#000" stroke-width="2.5"/>
<line x1="111.50" y1="1458.90" x2="126.50" y2="1458.90" stroke="#000" stroke-width="2.5"/>
<line x1="111.50" y1="1327.10" x2="126.50" y2="1327.10" stroke="#000" stroke-width="2.5"/>
<line x1="111.50" y1="1195.30" x2="126.50" y2="1195.30" stroke="#000" stroke-width="2.5"/>
<line x1="111.50" y1="1063.50" x2="126.50" y2="1063.50" stroke="#000" stroke-width="2.5"/>
<line x1="111.50" y1="931.70" x2="126.50" y2="931.70" stroke="#000" stroke-width="2.5"/>
<line x1="118.50" y1="1524.80" x2="126.50" y2="1524.80" stroke="#000" stroke-width="2.5"/>
<line x1="118.50" y1="1393.00" x2="126.50" y2="1393.00" stroke="#000" stroke-width="2.5"/>
<line x1="118.50" y1="1261.20" x2="126.50" y2="1261.20" stroke="#000" stroke-width="2.5"/>
<line x1="118.50" y1="1129.40" x2="126.50" y2="1129.40" stroke="#000" stroke-width="2.5"/>
<line x1="118.50" y1="997.60" x2="126.50" y2="997.60" stroke="#000" stroke-width="2.5"/>
<line x1="126.50" y1="1590.70" x2="126.50" y2="1605.70" stroke="#000" stroke-width="2.5"/>
<line x1="272.72" y1="1590.70" x2="272.72" y2="1605.70" stroke="#000" stroke-width="2.5"/>
<line x1="418.94" y1="1590.70" x2="418.94" y2="1605.70" stroke="#000" stroke-width="2.5"/>
<line x1="565.16" y1="1590.70" x2="565.16" y2="1605.70" stroke="#000" stroke-width="2.5"/>
<line x1="711.38" y1="1590.70" x2="711.38" y2="1605.70" stroke="#000" stroke-width="2.5"/>
<line x1="857.60" y1="1590.70" x2="857.60" y2="1605.70" stroke="#000" stroke-width="2.5"/>
<line x1="199.61" y1="1590.70" x2="199.61" y2="1598.70" stroke="#000" stroke-width="2.5"/>
<line x1="345.83" y1="1590.70" x2="345.83" y2="1598.70" stroke="#000" stroke-width="2.5"/>
<line x1="492.05" y1="1590.70" x2="492.05" y2="1598.70" stroke="#000" stroke-width="2.5"/>
<line x1="638.27" y1="1590.70" x2="638.27" y2="1598.70" stroke="#000" stroke-width="2.5"/>
<line x1="784.49" y1="1590.70" x2="784.49" y2="1598.70" stroke="#000" stroke-width="2.5"/>
<line x1="930.71" y1="1590.70" x2="930.71" y2="1598.70" stroke="#000" stroke-width="2.5"/>
<text transform="translate(101.80,1596.70) scale(1,1.04)" font-family='"Liberation Sans", sans-serif' font-size="25.5" text-anchor="end">0</text>
<text transform="translate(101.80,1464.90) scale(1,1.04)" font-family='"Liberation Sans", sans-serif' font-size="25.5" text-anchor="end">20</text>
<text transform="translate(101.80,1333.10) scale(1,1.04)" font-family='"Liberation Sans", sans-serif' font-size="25.5" text-anchor="end">40</text>
<text transform="translate(101.80,1201.30) scale(1,1.04)" font-family='"Liberation Sans", sans-serif' font-size="25.5" text-anchor="end">60</text>
<text transform="translate(101.80,1069.50) scale(1,1.04)" font-family='"Liberation Sans", sans-serif' font-size="25.5" text-anchor="end">80</text>
<text transform="translate(101.80,937.70) scale(1,1.04)" font-family='"Liberation Sans", sans-serif' font-size="25.5" text-anchor="end">100</text>
<text transform="translate(126.50,1634.00) scale(1,1.04)" font-family='"Liberation Sans", sans-serif' font-size="25.5" text-anchor="middle">0</text>
<text transform="translate(272.72,1634.00) scale(1,1.04)" font-family='"Liberation Sans", sans-serif' font-size="25.5" text-anchor="middle">20</text>
<text transform="translate(418.94,1634.00) scale(1,1.04)" font-family='"Liberation Sans", sans-serif' font-size="25.5" text-anchor="middle">40</text>
<text transform="translate(565.16,1634.00) scale(1,1.04)" font-family='"Liberation Sans", sans-serif' font-size="25.5" text-anchor="middle">60</text>
<text transform="translate(711.38,1634.00) scale(1,1.04)" font-family='"Liberation Sans", sans-serif' font-size="25.5" text-anchor="middle">80</text>
<text transform="translate(857.60,1634.00) scale(1,1.04)" font-family='"Liberation Sans", sans-serif' font-size="25.5" text-anchor="middle">100</text>
<text transform="translate(497.50,1683.80) scale(1,1.0)" font-family='"Liberation Serif", serif' font-size="37.1" text-anchor="middle">Number of Smart Grids</text>
<text transform="translate(479.00,1780.00) scale(1,1.02)" font-family='"Liberation Serif", serif' font-size="50" text-anchor="middle">(b)</text>
<text transform="translate(36.40,1283.00) rotate(-90) scale(1,1.05)" font-family='"Liberation Serif", serif' font-size="33.0" text-anchor="middle">Renewable Energy Sources Analysis Ratio (%)</text>
<rect x="673.80" y="1419.40" width="204.00" height="133.80" fill="#fff" stroke="#000" stroke-width="1.3"/>
<line x1="690.00" y1="1440.40" x2="731.50" y2="1440.40" stroke="#848400" stroke-width="2.6" stroke-dasharray="15 8.5 4.5 8.5 4.5 8.5"/>
<rect x="714.00" y="1433.12" width="14.00" height="14.56" fill="#848400"/>
<text transform="translate(758.40,1449.70) scale(1,1.05)" font-family='"Liberation Serif", serif' font-size="25.7" text-anchor="start">H-CP&amp;CF</text>
<line x1="690.00" y1="1473.00" x2="738.50" y2="1473.00" stroke="#ff0000" stroke-width="2.6" stroke-dasharray="16.5 17"/>
<circle cx="721.00" cy="1473.00" r="8.30" fill="#ff0000"/>
<text transform="translate(758.40,1481.30) scale(1,1.05)" font-family='"Liberation Serif", serif' font-size="25.7" text-anchor="start">TESM</text>
<line x1="690.00" y1="1505.60" x2="745.00" y2="1505.60" stroke="#0000ff" stroke-width="2.6" stroke-dasharray="4.8 15"/>
<path d="M721.00,1495.16L730.00,1510.82L712.00,1510.82Z" fill="#0000ff"/>
<text transform="translate(758.40,1513.80) scale(1,1.05)" font-family='"Liberation Serif", serif' font-size="25.7" text-anchor="start">UFP</text>
<line x1="690.00" y1="1538.30" x2="750.00" y2="1538.30" stroke="#800000" stroke-width="2.6" stroke-dasharray="20 8 4 8"/>
<path d="M711.50,1532.79L730.50,1532.79L721.00,1549.32Z" fill="#800000"/>
<text transform="translate(758.40,1547.00) scale(1,1.05)" font-family='"Liberation Serif", serif' font-size="25.7" text-anchor="start">CT</text>
</svg>
</body></html>
